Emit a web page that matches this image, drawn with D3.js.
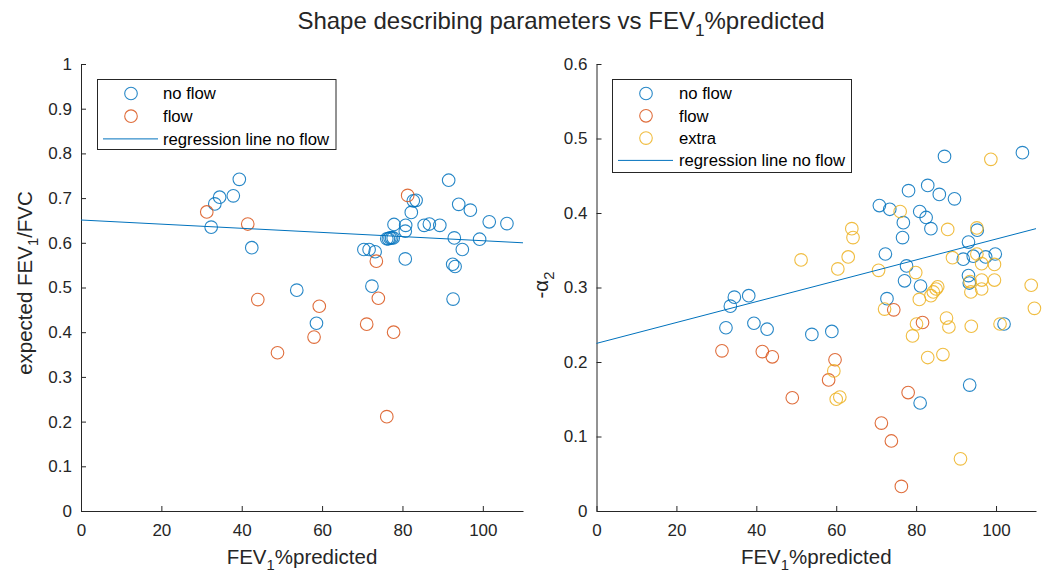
<!DOCTYPE html>
<html>
<head>
<meta charset="utf-8">
<script src="https://cdn.jsdelivr.net/npm/d3@7"></script>
<style>
  html, body { margin: 0; padding: 0; background: #fff; }
  svg { display: block; font-family: "Liberation Sans", Arial, Helvetica, sans-serif; }
</style>
</head>
<body>
<svg id="chart" width="1043" height="575"></svg>
<script>
// ---------- data ----------
const chartTitle = "Shape describing parameters vs FEV";
const xTicks = [0, 20, 40, 60, 80, 100];
const yTicksLeft = [0, 0.1, 0.2, 0.3, 0.4, 0.5, 0.6, 0.7, 0.8, 0.9, 1];
const yTicksRight = [0, 0.1, 0.2, 0.3, 0.4, 0.5, 0.6];

// left panel: expected FEV1/FVC vs FEV1 %predicted
const leftNoFlow = [
  [32.4,0.635],[33.3,0.687],[34.5,0.702],[37.9,0.705],[39.4,0.742],[42.5,0.589],[53.7,0.494],[58.6,0.420],
  [70.4,0.585],[71.7,0.585],[73.2,0.580],[72.4,0.503],
  [76.1,0.609],[76.5,0.609],[76.9,0.611],[77.3,0.611],[77.7,0.611],
  [77.9,0.641],[80.8,0.639],[80.7,0.626],[80.7,0.564],[82.2,0.668],[82.7,0.694],[83.4,0.695],
  [85.4,0.639],[86.7,0.642],[89.3,0.639],[91.5,0.740],[92.9,0.611],[92.5,0.552],[93.1,0.547],[92.6,0.474],
  [94.0,0.686],[94.9,0.585],[96.9,0.673],[99.2,0.608],[101.6,0.647],[106.0,0.643]
];
const leftFlow = [
  [31.3,0.669],[41.5,0.642],[44.0,0.473],[48.9,0.354],[58.0,0.389],[59.3,0.458],
  [71.1,0.418],[73.5,0.559],[74.0,0.476],[76.1,0.211],[77.8,0.400],[81.3,0.706]
];
// regression line (no flow) end points
const regX = [0, 110];
const regLeftY = [0.651, 0.600];

// right panel: -alpha2 vs FEV1 %predicted
const rightNoFlow = [
  [32.4,0.246],[33.5,0.275],[34.5,0.287],[38.1,0.289],[39.4,0.252],[42.7,0.244],[53.9,0.237],[58.9,0.241],
  [70.8,0.410],[72.3,0.345],[72.7,0.285],[73.4,0.405],[76.6,0.367],[76.8,0.387],[77.1,0.309],[77.6,0.329],
  [78.1,0.430],[80.9,0.402],[81.0,0.145],[81.1,0.302],[82.5,0.394],[82.9,0.437],[83.7,0.379],[85.8,0.425],
  [87.1,0.476],[89.6,0.419],[91.8,0.338],[93.1,0.361],[93.1,0.316],[93.3,0.306],[93.4,0.169],[94.3,0.342],
  [95.3,0.377],[97.4,0.341],[99.8,0.345],[102.0,0.251],[106.6,0.481]
];
const rightFlow = [
  [31.4,0.215],[41.5,0.214],[44.0,0.207],[49.0,0.152],[58.1,0.176],[59.7,0.203],
  [71.3,0.118],[73.8,0.094],[74.4,0.270],[76.3,0.033],[78.0,0.159],[81.6,0.253]
];
const rightExtra = [
  [51.2,0.337],[59.4,0.188],[60.0,0.150],[60.9,0.153],[60.4,0.325],[63.0,0.341],[63.9,0.379],[64.2,0.367],
  [70.6,0.323],[72.1,0.271],[76.0,0.402],[79.1,0.235],[79.9,0.320],[80.1,0.251],[80.8,0.284],[82.9,0.206],
  [83.7,0.289],[84.3,0.294],[85.0,0.298],[85.4,0.301],[86.7,0.210],[87.6,0.259],[87.9,0.378],[88.2,0.247],
  [89.1,0.340],[91.1,0.070],[93.5,0.308],[93.7,0.294],[93.8,0.248],[95.2,0.380],[95.2,0.345],[96.4,0.332],
  [96.4,0.310],[96.4,0.298],[98.7,0.472],[99.6,0.331],[99.6,0.310],[101.0,0.251],[108.8,0.303],[109.6,0.272]
];
const regRightY = [0.225, 0.379];

// ---------- style ----------
const C_BLUE = "#0072BD", C_ORANGE = "#D95319", C_YELLOW = "#EDB120";
const AXIS = "#262626";
const FS_TICK = 17, FS_LABEL = 20.5, FS_LEG = 16.7, FS_TITLE = 24;
const R = 6.3;

const svg = d3.select("#chart");

// title
const title = svg.append("text").attr("x", 561).attr("y", 29).attr("text-anchor", "middle")
  .attr("font-size", FS_TITLE).attr("fill", AXIS);
title.append("tspan").text(chartTitle);
title.append("tspan").attr("font-size", FS_TITLE * 0.72).attr("dy", 7).text("1");
title.append("tspan").attr("dy", -7).text("%predicted");

function panel(opts) {
  const x = d3.scaleLinear().domain([0, 110]).range([opts.x0, opts.x1]);
  const y = d3.scaleLinear().domain(opts.yDomain).range([511, 64]);
  const g = svg.append("g");

  // axes
  const xa = g.append("g").attr("transform", "translate(0,511)")
    .call(d3.axisBottom(x).tickValues(xTicks).tickSizeInner(-5).tickSizeOuter(0).tickPadding(10).tickFormat(d3.format("d")));
  const ya = g.append("g").attr("transform", `translate(${opts.x0},0)`)
    .call(d3.axisLeft(y).tickValues(opts.yTicks).tickSizeInner(-5).tickSizeOuter(0).tickPadding(9).tickFormat(d => String(+d.toFixed(1))));
  [xa, ya].forEach(a => {
    a.select(".domain").attr("stroke", AXIS).attr("stroke-width", 1);
    a.selectAll(".tick line").attr("stroke", AXIS);
    a.selectAll(".tick text").attr("fill", AXIS).attr("font-size", FS_TICK)
      .attr("font-family", "'Liberation Sans', Arial, sans-serif");
  });
  xa.selectAll(".tick text").attr("dy", "0.9em");

  // x label
  const xl = g.append("text").attr("x", (opts.x0 + opts.x1) / 2).attr("y", 564)
    .attr("text-anchor", "middle").attr("font-size", FS_LABEL).attr("fill", AXIS);
  xl.append("tspan").text("FEV");
  xl.append("tspan").attr("font-size", FS_LABEL * 0.72).attr("dy", 6).text("1");
  xl.append("tspan").attr("dy", -6).text("%predicted");

  // y label
  const yl = g.append("text").attr("transform", `translate(${opts.yLabelX},${opts.yLabelY}) rotate(-90)`)
    .attr("text-anchor", "middle").attr("font-size", FS_LABEL).attr("fill", AXIS);
  opts.yLabel(yl);

  // points
  const plot = g.append("g");
  opts.series.forEach(s => {
    plot.append("g").selectAll("circle").data(s.data).join("circle")
      .attr("cx", d => x(d[0])).attr("cy", d => y(d[1])).attr("r", R)
      .attr("fill", "none").attr("stroke", s.color).attr("stroke-width", 1.1).attr("opacity", 0.85);
  });
  // regression
  const line = d3.line().x(d => x(d[0])).y(d => y(d[1]));
  plot.append("path").datum(regX.map((v, i) => [v, opts.reg[i]])).attr("d", line)
    .attr("fill", "none").attr("stroke", C_BLUE).attr("stroke-width", 1);

  // legend
  const L = opts.legend;
  const lg = g.append("g");
  lg.append("rect").attr("x", L.x).attr("y", L.y).attr("width", L.w).attr("height", L.h)
    .attr("fill", "#fff").attr("stroke", AXIS).attr("stroke-width", 1);
  L.items.forEach((it, i) => {
    const cy = L.y + 14 + i * L.step;
    if (it.type === "m") {
      lg.append("circle").attr("cx", L.mx).attr("cy", cy).attr("r", R)
        .attr("fill", "none").attr("stroke", it.color).attr("stroke-width", 1.1).attr("opacity", 0.85);
    } else {
      lg.append("line").attr("x1", L.lx0).attr("x2", L.lx1).attr("y1", cy).attr("y2", cy)
        .attr("stroke", it.color).attr("stroke-width", 1);
    }
    lg.append("text").attr("x", L.tx).attr("y", cy).attr("dy", "0.35em")
      .attr("font-size", FS_LEG).attr("fill", "#000").text(it.label);
  });
}

panel({
  x0: 81, x1: 523, yDomain: [0, 1], yTicks: yTicksLeft,
  yLabelX: 32, yLabelY: 283,
  yLabel: t => {
    t.append("tspan").text("expected FEV");
    t.append("tspan").attr("font-size", FS_LABEL * 0.72).attr("dy", 6).text("1");
    t.append("tspan").attr("dy", -6).text("/FVC");
  },
  series: [{ data: leftNoFlow, color: C_BLUE }, { data: leftFlow, color: C_ORANGE }],
  reg: regLeftY,
  legend: {
    x: 97.5, y: 79.5, w: 238.5, h: 70, step: 22.7, mx: 131, tx: 163, lx0: 103, lx1: 158,
    items: [
      { type: "m", color: C_BLUE, label: "no flow" },
      { type: "m", color: C_ORANGE, label: "flow" },
      { type: "l", color: C_BLUE, label: "regression line no flow" }
    ]
  }
});

panel({
  x0: 596.5, x1: 1036, yDomain: [0, 0.6], yTicks: yTicksRight,
  yLabelX: 548, yLabelY: 285,
  yLabel: t => {
    t.append("tspan").text("-α");
    t.append("tspan").attr("font-size", FS_LABEL * 0.72).attr("dy", 6).text("2");
  },
  series: [{ data: rightNoFlow, color: C_BLUE }, { data: rightFlow, color: C_ORANGE }, { data: rightExtra, color: C_YELLOW }],
  reg: regRightY,
  legend: {
    x: 612.5, y: 79.5, w: 239, h: 93, step: 22.3, mx: 646, tx: 679, lx0: 618, lx1: 673,
    items: [
      { type: "m", color: C_BLUE, label: "no flow" },
      { type: "m", color: C_ORANGE, label: "flow" },
      { type: "m", color: C_YELLOW, label: "extra" },
      { type: "l", color: C_BLUE, label: "regression line no flow" }
    ]
  }
});
</script>
</body>
</html>
